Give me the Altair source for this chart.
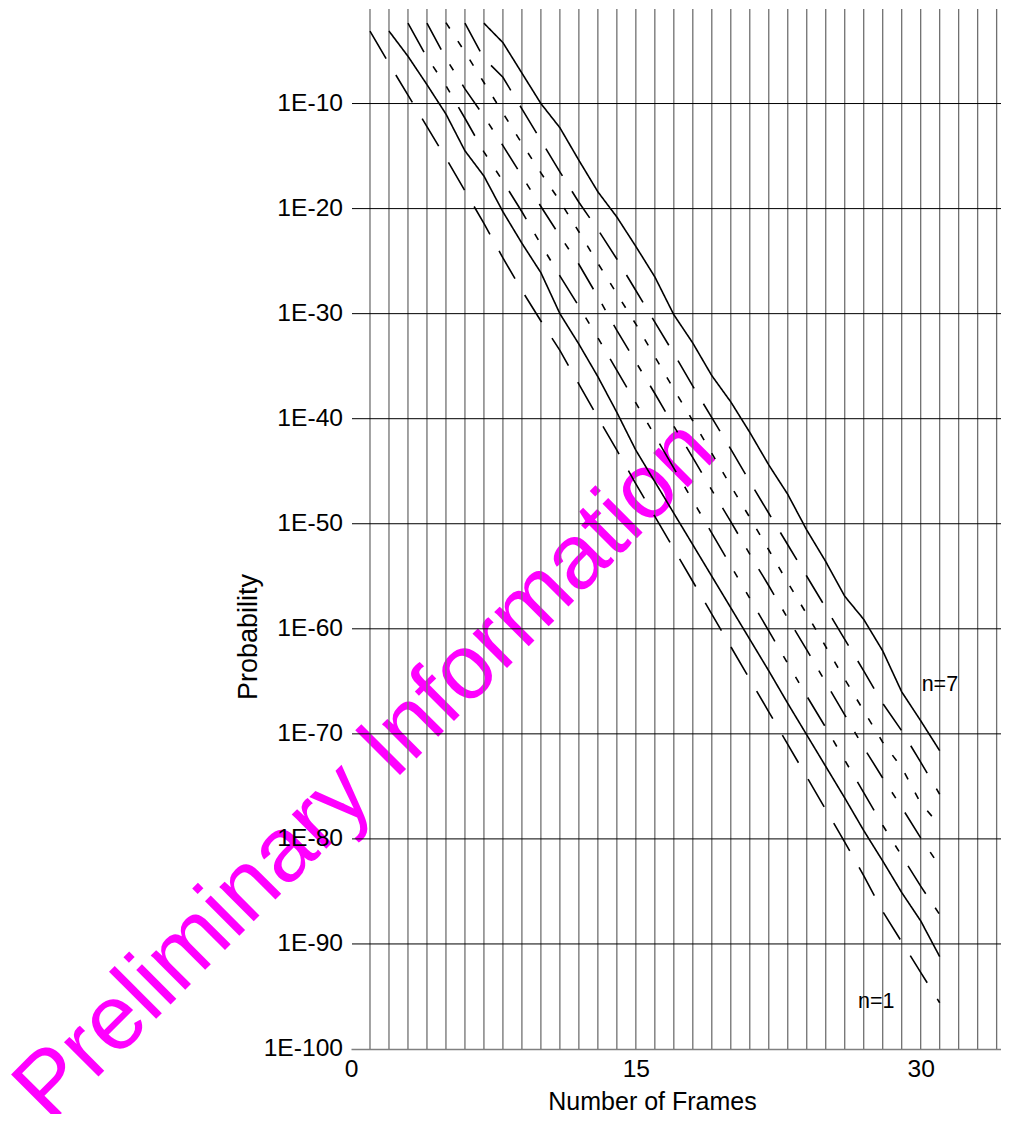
import altair as alt
import pandas as pd

# ---- data (log10 of probability) ----
series_names = ["n=1", "n=2", "n=3", "n=4", "n=5", "n=6", "n=7"]
start_frame = [1, 2, 3, 4, 5, 6, 7]

exp_n1 = [-3.1, -6.2, -9.2, -12.2, -15.2, -18.3, -21.4, -24.7, -27.8, -30.7, -33.5,
          -36.7, -39.9, -43.0, -46.2, -49.3, -52.4, -55.5, -58.6, -61.7, -64.8, -67.9,
          -71.0, -74.1, -77.2, -80.3, -83.5, -86.9, -89.8, -92.7, -95.6]
exp_n2 = [-3.1, -5.5, -8.2, -11.0, -14.5, -16.9, -20.3, -23.3, -26.1, -30.0, -32.9,
          -36.0, -39.4, -43.0, -46.0, -49.0, -52.0, -55.0, -58.0, -61.0, -64.0, -67.1,
          -70.1, -73.1, -76.1, -79.2, -82.1, -85.1, -87.8, -91.2]
exp_n3 = [-2.35, -5.6, -8.3, -11.4, -14.6, -17.4, -20.3, -23.4, -26.4, -29.3, -32.3,
          -35.4, -38.5, -41.6, -44.7, -47.8, -50.9, -54.0, -57.1, -60.2, -63.3, -66.4,
          -69.4, -72.5, -75.6, -78.7, -81.6, -84.5, -87.2]
exp_n4 = [-2.35, -5.7, -8.6, -11.2, -14.0, -16.9, -19.8, -22.6, -25.3, -28.4, -31.6,
          -34.6, -37.6, -40.7, -43.7, -46.8, -49.8, -52.9, -55.9, -59.0, -62.0, -65.1,
          -68.2, -71.3, -74.2, -77.0, -79.9, -82.6]
exp_n5 = [-2.3, -5.1, -8.0, -10.9, -13.8, -16.6, -19.3, -22.2, -25.2, -28.1, -31.0,
          -34.1, -37.2, -40.2, -43.3, -46.4, -49.4, -52.5, -55.6, -58.6, -61.7, -64.8,
          -67.8, -70.8, -73.2, -76.6, -78.7]
exp_n6 = [-2.35, -5.7, -7.5, -10.5, -13.5, -16.5, -19.4, -22.0, -24.8, -27.8, -30.8,
          -33.8, -36.9, -39.9, -42.9, -46.0, -49.0, -52.0, -55.0, -58.0, -61.0, -64.0,
          -67.1, -69.7, -72.7, -75.75]
exp_n7 = [-2.35, -4.2, -7.1, -10.0, -12.3, -15.4, -18.4, -20.8, -23.6, -26.5, -30.1,
          -32.8, -35.9, -38.4, -41.3, -44.4, -47.2, -50.6, -53.6, -56.9, -59.1, -62.1,
          -66.0, -68.75, -71.6]

x_tick_labels = [0, 15, 30]
frame_grid = list(range(1, 35))
y_tick_values = [1e-10, 1e-20, 1e-30, 1e-40, 1e-50, 1e-60, 1e-70, 1e-80, 1e-90, 1e-100]
y_tick_labels = ["1E-10", "1E-20", "1E-30", "1E-40", "1E-50", "1E-60", "1E-70",
                 "1E-80", "1E-90", "1E-100"]
y_title = ["Probability"]

label_text = ["n=7", "n=1"]
label_frame = [30.05, 26.7]
label_exp = [-65.9, -96.1]

watermark_text = ["Preliminary Information"]

# ---- build tables ----
all_exps = [exp_n1, exp_n2, exp_n3, exp_n4, exp_n5, exp_n6, exp_n7]
rows = []
for name, s, exps in zip(series_names, start_frame, all_exps):
    for i, e in enumerate(exps):
        rows.append({"series": name, "frame": s + i, "prob": 10.0 ** e})
df = pd.DataFrame(rows)

lab_df = pd.DataFrame({"text": label_text, "frame": label_frame,
                       "prob": [10.0 ** e for e in label_exp]})
ylab_df = pd.DataFrame({"prob": y_tick_values, "label": y_tick_labels})
ygrid_df = pd.DataFrame({"prob": y_tick_values[:-1]})
xgrid_df = pd.DataFrame({"frame": frame_grid})
wm_df = pd.DataFrame({"t": watermark_text})
yt_df = pd.DataFrame({"t": y_title})

FONT = "Liberation Sans"
W, H = 650, 1040
xscale = alt.Scale(domain=[0, 34.23], nice=False, zero=False)
yscale = alt.Scale(type="log", domain=[1e-100, 1e-1], nice=False)

x_axis = alt.Axis(
    orient="bottom", values=x_tick_labels, grid=False, ticks=False, tickSize=0,
    domainColor="#808080", domainWidth=1.5,
    labelFont=FONT, labelFontSize=24.6, labelColor="black",
    labelPadding=27, labelBaseline="alphabetic", labelFlush=False,
    title="Number of Frames", titleFont=FONT, titleFontSize=25,
    titleFontWeight="normal", titleColor="black",
    titleX=301, titleY=60, titleBaseline="alphabetic", titleAlign="center")

dash_range = [[32, 19], [1, 0], [33, 17, 7, 17, 7, 17], [30, 17, 7, 17],
              [7, 15], [32, 18], [1, 0]]

watermark = alt.Chart(wm_df).mark_text(
    angle=315, fontSize=92, color="#FF00FF", font=FONT,
    align="center", baseline="alphabetic"
).encode(text="t:N", x=alt.value(34), y=alt.value(781))

vgrid = alt.Chart(xgrid_df).mark_rule(color="#707070", strokeWidth=1.3).encode(
    x=alt.X("frame:Q", scale=xscale, axis=x_axis),
    y=alt.value(0), y2=alt.value(H),
)

hgrid = alt.Chart(ygrid_df).mark_rule(color="black", strokeWidth=1).encode(
    y=alt.Y("prob:Q", scale=yscale, axis=None),
    x=alt.value(1), x2=alt.value(W),
)

lines = alt.Chart(df).mark_line(color="black", strokeWidth=1.6).encode(
    x=alt.X("frame:Q", scale=xscale, axis=x_axis),
    y=alt.Y("prob:Q", scale=yscale, axis=None),
    strokeDash=alt.StrokeDash("series:N", scale=alt.Scale(domain=series_names, range=dash_range),
                              legend=None),
    order="frame:Q",
)

labels = alt.Chart(lab_df).mark_text(
    font=FONT, fontSize=21.5, color="black", align="left", baseline="alphabetic"
).encode(
    x=alt.X("frame:Q", scale=xscale, axis=x_axis),
    y=alt.Y("prob:Q", scale=yscale, axis=None),
    text="text:N",
)

ylabels = alt.Chart(ylab_df).mark_text(
    font=FONT, fontSize=24.6, color="black", align="right", baseline="middle"
).encode(
    x=alt.value(-8),
    y=alt.Y("prob:Q", scale=yscale, axis=None),
    text="label:N",
)

ytitle = alt.Chart(yt_df).mark_text(
    font=FONT, fontSize=27, color="black", angle=270,
    align="center", baseline="alphabetic"
).encode(text="t:N", x=alt.value(-94), y=alt.value(628))

chart = alt.layer(watermark, vgrid, hgrid, lines, labels, ylabels, ytitle).properties(
    width=W, height=H,
    autosize=alt.AutoSizeParams(type="none"),
    padding={"left": 343, "top": 1, "right": 0, "bottom": 65},
    background="white",
).configure_view(stroke=None)

chart.save("out.html", embed_options={"renderer": "svg", "actions": False})
